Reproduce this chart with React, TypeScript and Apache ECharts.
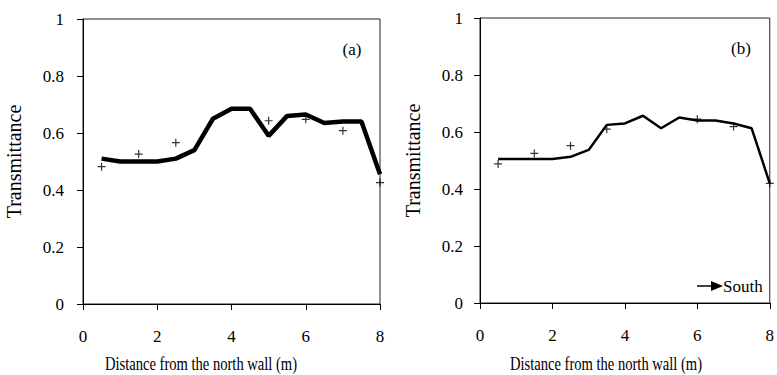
import React, { useEffect, useRef } from "react";
import * as echarts from "echarts";

const lineX = [0.5, 1, 1.5, 2, 2.5, 3, 3.5, 4, 4.5, 5, 5.5, 6, 6.5, 7, 7.5, 8];
const lineA = [0.51, 0.5, 0.5, 0.5, 0.51, 0.54, 0.65, 0.685, 0.685, 0.59, 0.66, 0.665, 0.635, 0.64, 0.64, 0.455];
const lineB = [0.505, 0.505, 0.505, 0.505, 0.513, 0.537, 0.625, 0.63, 0.657, 0.613, 0.651, 0.64, 0.64, 0.63, 0.613, 0.42];

const crossXA = [0.5, 1.5, 2.5, 5, 6, 7, 8];
const crossA = [0.482, 0.526, 0.566, 0.643, 0.648, 0.608, 0.426];
const crossXB = [0.5, 1.5, 2.5, 3.5, 6, 7, 8];
const crossB = [0.488, 0.525, 0.552, 0.61, 0.645, 0.619, 0.42];

const xTitle = "Distance from the north wall (m)";
const yTitle = "Transmittance";
const panelLabels = ["(a)", "(b)"];
const legendLabel = "South";

const FONT = "'Liberation Serif', 'Times New Roman', serif";
const plus = "path://M3.4,0h1.2v8h-1.2zM0,3.4h8v1.2h-8z";

function xAxis(i: number) {
  return {
    type: "value",
    gridIndex: i,
    min: 0,
    max: 8,
    interval: 2,
    splitLine: { show: false },
    axisLine: { show: true, lineStyle: { color: "#000", width: 1 } },
    axisTick: { show: true, inside: false, length: 6, lineStyle: { color: "#000" } },
    axisLabel: { color: "#000", fontFamily: FONT, fontSize: 17, margin: 24 },
  };
}

function yAxis(i: number, gap: number, margin: number) {
  return {
    type: "value",
    gridIndex: i,
    min: 0,
    max: 1,
    interval: 0.2,
    splitLine: { show: false },
    axisLine: { show: true, lineStyle: { color: "#000", width: 1 } },
    axisTick: { show: true, inside: false, length: 6, lineStyle: { color: "#000" } },
    axisLabel: { color: "#000", fontFamily: FONT, fontSize: 17, margin },
    name: yTitle,
    nameLocation: "middle",
    nameGap: gap,
    nameTextStyle: { color: "#000", fontFamily: FONT, fontSize: 20 },
  };
}

export default function App() {
  const ref = useRef<HTMLDivElement>(null);
  useEffect(() => {
    document.body.style.margin = "0";
    const chart = echarts.init(ref.current!, null, { renderer: "svg" });
    const t = (text: string, x: number, y: number, size = 17, scaleX = 1, align = "center") => ({
      type: "text",
      x,
      y,
      scaleX,
      style: { text, fontFamily: FONT, fontSize: size, fill: "#000", align, verticalAlign: "middle" },
    });
    chart.setOption({
      animation: false,
      backgroundColor: "#fff",
      grid: [
        { left: 83, top: 19, width: 297, height: 285, show: true, borderColor: "#222", borderWidth: 1, backgroundColor: "transparent" },
        { left: 480, top: 18, width: 294, height: 285, show: true, borderColor: "#222", borderWidth: 1, backgroundColor: "transparent" },
      ],
      xAxis: [xAxis(0), xAxis(1)],
      yAxis: [yAxis(0, 59, 19), yAxis(1, 57, 17)],
      series: [
        {
          type: "line",
          xAxisIndex: 0,
          yAxisIndex: 0,
          data: lineX.map((x, i) => [x, lineA[i]]),
          showSymbol: false,
          lineStyle: { color: "#000", width: 4.5 },
          z: 3,
        },
        {
          type: "scatter",
          xAxisIndex: 0,
          yAxisIndex: 0,
          data: crossXA.map((x, i) => [x, crossA[i]]),
          symbol: plus,
          symbolSize: 8,
          itemStyle: { color: "#000" },
          z: 4,
        },
        {
          type: "line",
          xAxisIndex: 1,
          yAxisIndex: 1,
          data: lineX.map((x, i) => [x, lineB[i]]),
          showSymbol: false,
          lineStyle: { color: "#000", width: 2.5 },
          z: 3,
        },
        {
          type: "scatter",
          xAxisIndex: 1,
          yAxisIndex: 1,
          data: crossXB.map((x, i) => [x, crossB[i]]),
          symbol: plus,
          symbolSize: 8,
          itemStyle: { color: "#000" },
          z: 4,
        },
      ],
      graphic: [
        t(xTitle, 201, 364, 18, 0.81),
        t(xTitle, 606, 364, 18, 0.81),
        t(panelLabels[0], 352, 49),
        t(panelLabels[1], 741, 48),
        { type: "line", shape: { x1: 697, y1: 286, x2: 713, y2: 286 }, style: { stroke: "#000", lineWidth: 1.5 } },
        { type: "polygon", shape: { points: [[711, 281], [723, 286], [711, 291]] }, style: { fill: "#000" } },
        t(legendLabel, 723, 286, 17, 1, "left"),
      ],
    });
    return () => chart.dispose();
  }, []);
  return <div ref={ref} style={{ position: "absolute", left: 0, top: 0, width: 777, height: 375 }} />;
}
